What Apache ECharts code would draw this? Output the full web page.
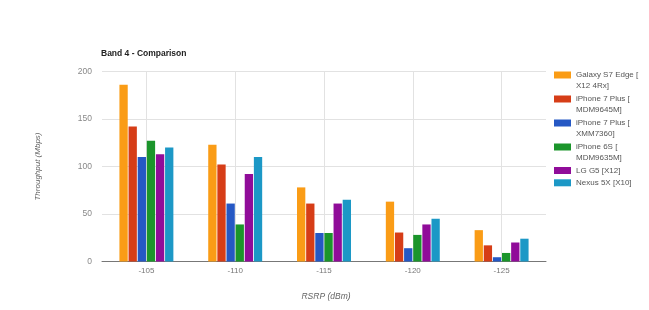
<!DOCTYPE html>
<html>
<head>
<meta charset="utf-8">
<script src="https://cdn.jsdelivr.net/npm/echarts@6/dist/echarts.min.js"></script>
<style>
html,body{margin:0;padding:0;background:#fff;}
#c{width:649px;height:310px;}
</style>
</head>
<body>
<div id="c"></div>
<script>
const categories = ['-105', '-110', '-115', '-120', '-125'];
const seriesNames = [
  'Galaxy S7 Edge [\nX12 4Rx]',
  'iPhone 7 Plus [\nMDM9645M]',
  'iPhone 7 Plus [\nXMM7360]',
  'iPhone 6S [\nMDM9635M]',
  'LG G5 [X12]',
  'Nexus 5X [X10]'
];
const galaxyS7Edge = [186, 123, 78, 63, 33];
const iphone7Qualcomm = [142, 102, 61, 30.5, 17];
const iphone7Intel = [110, 61, 30, 14, 4.5];
const iphone6s = [127, 39, 30, 28, 9];
const lgG5 = [113, 92, 61, 39, 20];
const nexus5x = [120, 110, 65, 45, 24];
const yTicks = [0, 50, 100, 150, 200];

const colors = ['#fa9c16', '#d63d17', '#2558c4', '#1b952b', '#900c99', '#1c98c6'];
const values = [galaxyS7Edge, iphone7Qualcomm, iphone7Intel, iphone6s, lgG5, nexus5x];

const chart = echarts.init(document.getElementById('c'));
const font = 'Liberation Sans, Arial, sans-serif';
chart.setOption({
  animation: false,
  color: colors,
  textStyle: { fontFamily: font },
  title: {
    text: 'Band 4 - Comparison',
    left: 101, top: 49.5, padding: 0,
    textStyle: { fontSize: 8.5, fontWeight: 'bold', color: '#222', fontFamily: font }
  },
  legend: [
    {
      orient: 'vertical', left: 554, top: 69.5, padding: 0,
      itemWidth: 17, itemHeight: 22, itemGap: 2,
      icon: 'path://M0,0L0,0M0,2h17v7h-17zM0,22L0,22',
      data: seriesNames.slice(0, 4),
      selectedMode: false,
      textStyle: { fontSize: 8, lineHeight: 11, color: '#555', fontFamily: font }
    },
    {
      orient: 'vertical', left: 554, top: 165, padding: 0,
      itemWidth: 17, itemHeight: 7, itemGap: 1.3,
      icon: 'rect',
      data: seriesNames.slice(4),
      selectedMode: false,
      textStyle: { fontSize: 8, lineHeight: 11, color: '#555', fontFamily: font }
    }
  ],
  grid: { left: 102, top: 71.5, width: 444, height: 190, containLabel: false, outerBoundsMode: 'none' },
  xAxis: [
    {
      type: 'category', data: categories, boundaryGap: true,
      axisLine: { show: true, lineStyle: { color: '#777', width: 1 } },
      axisTick: { show: false },
      splitLine: { show: false },
      axisLabel: { color: '#777', fontSize: 8, margin: 5, fontFamily: font },
      name: 'RSRP (dBm)', nameLocation: 'middle', nameGap: 31,
      nameTextStyle: { fontStyle: 'italic', fontSize: 8.5, color: '#666', fontFamily: font, padding: [0, 0, 0, 4] }
    },
    {
      type: 'value', min: 0, max: 10, interval: 1, position: 'bottom',
      axisLine: { show: false }, axisTick: { show: false }, axisLabel: { show: false },
      splitLine: { show: true, lineStyle: { color: ['rgba(0,0,0,0)', '#e2e2e2'], width: 1 } }
    }
  ],
  yAxis: {
    type: 'value', min: yTicks[0], max: yTicks[yTicks.length - 1], interval: 50,
    axisLine: { show: false }, axisTick: { show: false },
    splitLine: { lineStyle: { color: '#e2e2e2' } },
    axisLabel: { color: '#888', fontSize: 8.5, margin: 10, fontFamily: font },
    name: 'Throughput (Mbps)', nameLocation: 'middle', nameGap: 60, nameRotate: 90,
    nameTextStyle: { fontStyle: 'italic', fontSize: 8, color: '#666', fontFamily: font }
  },
  series: seriesNames.map((n, i) => ({
    name: n, type: 'bar', xAxisIndex: 0, data: values[i],
    barWidth: 8.3, barGap: '10%'
  }))
});
</script>
</body>
</html>
